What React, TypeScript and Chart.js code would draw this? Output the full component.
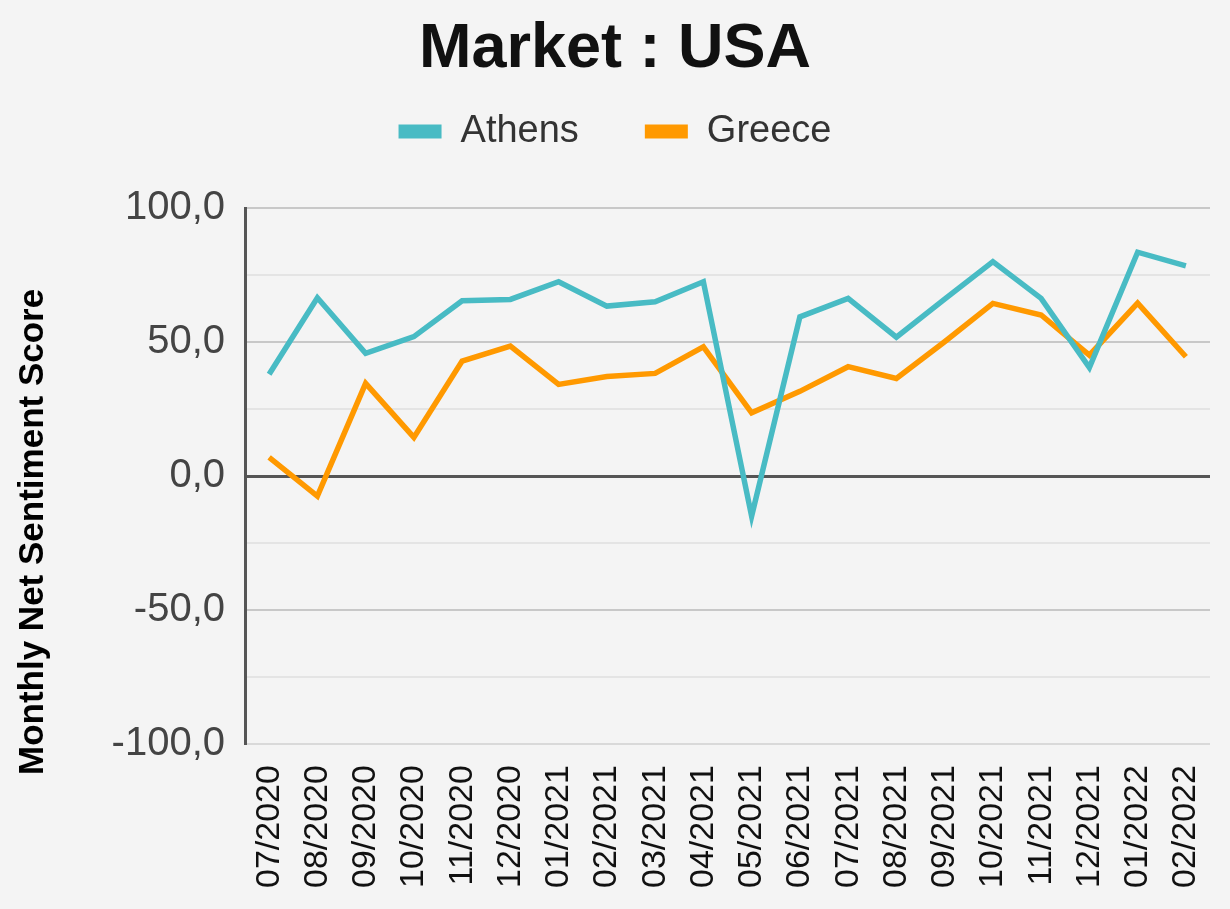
import React, { useEffect, useRef } from 'react';
import { Chart, registerables } from 'chart.js';

Chart.register(...registerables);

const months = [
  '07/2020', '08/2020', '09/2020', '10/2020', '11/2020', '12/2020',
  '01/2021', '02/2021', '03/2021', '04/2021', '05/2021', '06/2021',
  '07/2021', '08/2021', '09/2021', '10/2021', '11/2021', '12/2021',
  '01/2022', '02/2022',
];

const athens = [
  38.0, 66.5, 45.8, 52.0, 65.4, 65.9, 72.5, 63.4, 65.0, 72.5,
  -15.0, 59.4, 66.3, 51.8, 66.0, 80.0, 66.3, 40.5, 83.5, 78.4,
];

const greece = [
  7.0, -7.5, 34.6, 14.4, 42.9, 48.5, 34.2, 37.1, 38.3, 48.2,
  23.6, 31.6, 40.8, 36.4, 50.1, 64.4, 60.1, 45.1, 64.5, 44.5,
];

const titleText = 'Market : USA';
const yAxisTitle = 'Monthly Net Sentiment Score';
const seriesNames = ['Athens', 'Greece'];
const seriesColors = ['#48BBC4', '#FF9900'];

const FONT = "'Liberation Sans', Arial, Helvetica, sans-serif";

// draws the rotated y-axis title in the left margin
const yTitlePlugin = {
  id: 'yTitleLeft',
  afterDraw(chart: any) {
    const ctx = chart.ctx;
    ctx.save();
    ctx.translate(33, 775);
    ctx.rotate(-Math.PI / 2);
    ctx.font = `bold 35px ${FONT}`;
    ctx.fillStyle = '#000';
    ctx.textAlign = 'left';
    ctx.textBaseline = 'middle';
    ctx.fillText(yAxisTitle, 0, 0);
    ctx.restore();
  },
};

export default function App() {
  const ref = useRef<HTMLCanvasElement>(null);

  useEffect(() => {
    if (!ref.current) return;
    Chart.defaults.font.family = FONT;
    const chart = new Chart(ref.current, {
      type: 'line',
      data: {
        labels: months,
        datasets: [
          {
            label: seriesNames[0],
            data: athens,
            borderColor: seriesColors[0],
            backgroundColor: seriesColors[0],
            borderWidth: 5.5,
            pointRadius: 0,
            tension: 0,
            fill: false,
          },
          {
            label: seriesNames[1],
            data: greece,
            borderColor: seriesColors[1],
            backgroundColor: seriesColors[1],
            borderWidth: 5.5,
            pointRadius: 0,
            tension: 0,
            fill: false,
          },
        ],
      },
      options: {
        animation: false,
        responsive: true,
        maintainAspectRatio: false,
        events: [],
        layout: { padding: 0 },
        plugins: {
          title: {
            display: true,
            text: titleText,
            color: '#111',
            font: { size: 63, weight: 'bold', family: FONT },
            padding: { top: 12, bottom: -41.1 },
          },
          subtitle: {
            display: true,
            text: '',
            position: 'top',
            weight: 500,
            font: { size: 1, lineHeight: 1 },
            padding: { top: 0, bottom: 46.5 },
          } as any,
          legend: {
            display: true,
            position: 'top',
            labels: {
              boxWidth: 43,
              boxHeight: 14,
              padding: 66,
              color: '#333',
              font: { size: 38, family: FONT },
              generateLabels: (c: any) =>
                (Chart.defaults.plugins.legend.labels.generateLabels as any)(c).map(
                  (l: any) => ({ ...l, lineWidth: 0 })
                ),
            },
          },
          tooltip: { enabled: false },
        },
        scales: {
          x: {
            offset: true,
            grid: { display: false, drawTicks: false },
            border: { display: false },
            afterFit: (scale: any) => {
              scale.paddingLeft = 0;
              scale.paddingRight = 20;
            },
            ticks: {
              color: '#111',
              font: { size: 34, family: FONT },
              maxRotation: 90,
              minRotation: 90,
              padding: 21,
              autoSkip: false,
            },
          },
          y: {
            min: -100,
            max: 100,
            afterFit: (scale: any) => {
              scale.width = 245;
            },
            ticks: {
              stepSize: 25,
              autoSkip: false,
              padding: 20,
              color: '#444',
              font: { size: 40, family: FONT },
              callback: (v: any) => {
                const n = Number(v);
                return n % 50 === 0 ? n.toFixed(1).replace('.', ',') : '';
              },
            },
            grid: {
              drawTicks: false,
              color: (ctx: any) => {
                const v = ctx.tick ? ctx.tick.value : 1;
                if (v === 0) return '#555555';
                if (v === -100) return '#d9d9d9';
                if (v % 50 === 0) return '#c8c8c8';
                return '#e4e4e4';
              },
              lineWidth: (ctx: any) => {
                const v = ctx.tick ? ctx.tick.value : 1;
                return v === 0 ? 3 : 2;
              },
            },
            border: { display: true, color: '#555555', width: 3 },
            title: { display: false },
          },
        },
      },
      plugins: [yTitlePlugin],
    });
    return () => chart.destroy();
  }, []);

  return (
    <div
      style={{
        position: 'fixed',
        left: 0,
        top: 0,
        width: 1230,
        height: 909,
        background: '#f4f4f4',
      }}
    >
      <canvas ref={ref} />
    </div>
  );
}
